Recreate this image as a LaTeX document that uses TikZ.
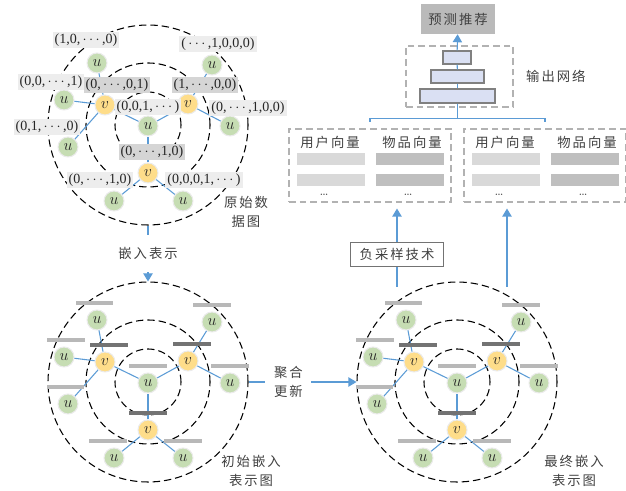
\documentclass[tikz,border=0pt]{standalone}
\usepackage{fontspec}
\newfontfamily\cjk[LetterSpace=15]{Noto Sans CJK SC}
\newfontfamily\labfont{Liberation Serif}
\usetikzlibrary{positioning, arrows.meta}

\definecolor{lineblue}{HTML}{5B9BD5}
\definecolor{ugreen}{HTML}{C6DDB3}
\definecolor{vyellow}{HTML}{FEDD8A}
\definecolor{netblue}{HTML}{DAE0F3}
\definecolor{lablight}{HTML}{EDEDED}
\definecolor{labdark}{HTML}{D5D5D5}

\newcommand{\dd}{\,$\cdots$\,}

\tikzset{
    ring/.style={circle, draw, dash pattern=on 5.5pt off 3pt, line width=0.8pt, inner sep=0pt},
    unode/.style={circle, fill=ugreen, draw=black!8, line width=0.8pt, minimum size=15pt, inner sep=0pt, text=black!85, font=\fontsize{11.5}{12}\selectfont},
    vnode/.style={unode, fill=vyellow},
    link/.style={lineblue, line width=0.8pt},
    flow/.style={link, -{Triangle[length=6pt, width=7pt]}},
    ulab/.style={fill=lablight, inner xsep=1.5pt, inner ysep=0pt, minimum height=12pt, font=\labfont\fontsize{10.5}{12}\selectfont, text=black!85},
    vlab/.style={ulab, fill=labdark},
    ubar/.style={fill=black!28, minimum width=28pt, minimum height=3pt, inner sep=0pt},
    vbar/.style={ubar, fill=black!55},
    cn/.style={font=\cjk\fontsize{10}{14.5}\selectfont, text=black!75, align=center},
    greybox/.style={draw=black!30, dash pattern=on 5pt off 3pt, line width=0.8pt, inner sep=0pt},
    netbox/.style={draw=black!50, fill=netblue, line width=0.8pt, inner sep=0pt},
    cellL/.style={fill=black!15, minimum width=51pt, minimum height=9pt, inner sep=0pt},
    cellD/.style={fill=black!25, minimum width=51pt, minimum height=9pt, inner sep=0pt}
}

\begin{document}
\begin{tikzpicture}[x=0.75pt, y=-0.75pt, font=\fontsize{10}{12}\selectfont]
\useasboundingbox (0,0) rectangle (626,491);

% three graphs: t = raw data, l = initial embedding, r = final embedding
\foreach \g/\cx/\cy in {t/148/125, l/148/382, r/457/382} {
  \begin{scope}[shift={(\cx,\cy)}]
    \node[ring, minimum size=150pt] (o-\g) at (0,0) {};
    \node[ring, minimum size=93pt] (m-\g) at (0,0) {};
    \node[ring, minimum size=49.5pt] (i-\g) at (0,0) {};
    \node[unode] (c-\g) at (0,1) {$u$};
    \node[vnode] (v1-\g) at (-43,-20) {$v$};
    \node[vnode] (v2-\g) at (40,-21) {$v$};
    \node[vnode] (v3-\g) at (0,48) {$v$};
    \node[unode] (u1-\g) at (-51,-62) {$u$};
    \node[unode] (u2-\g) at (-84,-25) {$u$};
    \node[unode] (u3-\g) at (-80,22) {$u$};
    \node[unode] (u4-\g) at (64,-60) {$u$};
    \node[unode] (u5-\g) at (82,1) {$u$};
    \node[unode] (u6-\g) at (-34,76) {$u$};
    \node[unode] (u7-\g) at (35,76) {$u$};
  \end{scope}
  \path[link]
    (v1-\g) edge (c-\g)
            edge (u1-\g)
            edge (u2-\g)
            edge (u3-\g)
    (v2-\g) edge (c-\g)
            edge (u4-\g)
            edge (u5-\g)
    (v3-\g) edge (c-\g)
            edge (u6-\g)
            edge (u7-\g);
}

% one-hot labels of the raw data graph
\node[ulab] (lu1) at (86,40) {(1,0,\dd,0)};
\node[ulab] (lu4) at (218,44) {(\dd,1,0,0,0)};
\node[ulab] (lu2) at (51,82) {(0,0,\dd,1)};
\node[vlab] (lv1) at (117,85) {(0,\dd,0,1)};
\node[vlab] (lv2) at (205,85) {(1,\dd,0,0)};
\node[ulab] (lu5) at (248,108) {(0,\dd,1,0,0)};
\node[ulab] (lc) at (148,107) {(0,0,1,\dd)};
\node[ulab] (lu3) at (47,127) {(0,1,\dd,0)};
\node[vlab] (lv3) at (152,152) {(0,\dd,1,0)};
\node[ulab] (lu6) at (100,180) {(0,\dd,1,0)};
\node[ulab] (lu7) at (204,180) {(0,0,0,1,\dd)};

% embedding bars of the two lower graphs
\foreach \g in {l,r} {
  \node[vbar, above=3pt of c-\g, fill=black!28] (bc-\g) {};
  \node[vbar, above=3pt of v1-\g, xshift=3pt] (bv1-\g) {};
  \node[vbar, above=3pt of v2-\g, xshift=3pt] (bv2-\g) {};
  \node[vbar, above=3pt of v3-\g] (bv3-\g) {};
  \node[ubar, above=3pt of u1-\g, xshift=-2pt] (bu1-\g) {};
  \node[ubar, above=3pt of u2-\g, xshift=1.5pt] (bu2-\g) {};
  \node[ubar, above=3pt of u3-\g, xshift=-2pt] (bu3-\g) {};
  \node[ubar, above=3pt of u4-\g] (bu4-\g) {};
  \node[ubar, above=3pt of u5-\g] (bu5-\g) {};
  \node[ubar, above=3pt of u6-\g, xshift=-4.5pt] (bu6-\g) {};
  \node[ubar, above=3pt of u7-\g] (bu7-\g) {};
}

\node[cn] (raw) at (246,212) {原始数\\据图};
\node[cn] (init) at (251,471) {初始嵌入\\表示图};
\node[cn] (final) at (574,471) {最终嵌入\\表示图};

\draw[flow] (o-t) -- node[cn, fill=white, inner ysep=9pt, inner xsep=1pt] (emb) {嵌入表示} (o-l);
\draw[flow] (o-l) -- node[cn, pos=0.37, fill=white, inner xsep=6.5pt] (agg) {聚合\\更新} (o-r);

% vector boxes
\foreach \s/\bx in {L/370, R/545} {
  \node[greybox, minimum width=121.5pt, minimum height=54.75pt] (pair-\s) at (\bx,165.5) {};
  \node[cn] (uh-\s) at ({\bx-40},142) {用户向量};
  \node[cn] (ih-\s) at ({\bx+42},142) {物品向量};
  \node[cellL] (ua-\s) at ({\bx-39},159) {};
  \node[cellL] (ub-\s) at ({\bx-39},180) {};
  \node[cellD] (ia-\s) at ({\bx+40},159) {};
  \node[cellD] (ib-\s) at ({\bx+40},180) {};
  \node[text=black!70] (ud-\s) at ({\bx-46},195) {\ldots};
  \node[text=black!70] (id-\s) at ({\bx+38},195) {\ldots};
}

% output network
\node[greybox, minimum width=80.25pt, minimum height=45.75pt] (net) at (459.5,76.5) {};
\node[netbox, minimum width=21pt, minimum height=9.75pt] (n1) at (457,57.5) {};
\node[netbox, minimum width=39.75pt, minimum height=9.75pt] (n2) at (457.5,76.5) {};
\node[netbox, minimum width=56.25pt, minimum height=10.5pt] (n3) at (457.5,96) {};
\node[cn, right=6pt of net] (netlab) {输出网络};
\node[cn, fill=black!27, minimum width=55.5pt, minimum height=22.5pt, inner sep=0pt] (pred) at (458,19) {预测推荐};

\draw[link] (n1) -- (n2);
\draw[link] (n2) -- (n3);
\draw[flow] (n1) -- (pred);
\draw[link] ([yshift=5pt]pair-L.north) -- ++(0,-3) coordinate (brk) -| ([yshift=5pt]pair-R.north);
\draw[link] (n3) -- (n3 |- brk);

% negative sampling
\coordinate (s1) at (397,287);
\coordinate (s2) at (507,287);
\draw[flow, shorten >=4.5pt] (s1) -- node[cn, pos=0.38, draw=black!55, fill=white, line width=0.8pt, minimum width=70pt, minimum height=18pt, inner sep=0pt] (neg) {负采样技术} (s1 |- pair-L.south);
\draw[flow, shorten >=4.5pt] (s2) -- (s2 |- pair-R.south);
\end{tikzpicture}
\end{document}
